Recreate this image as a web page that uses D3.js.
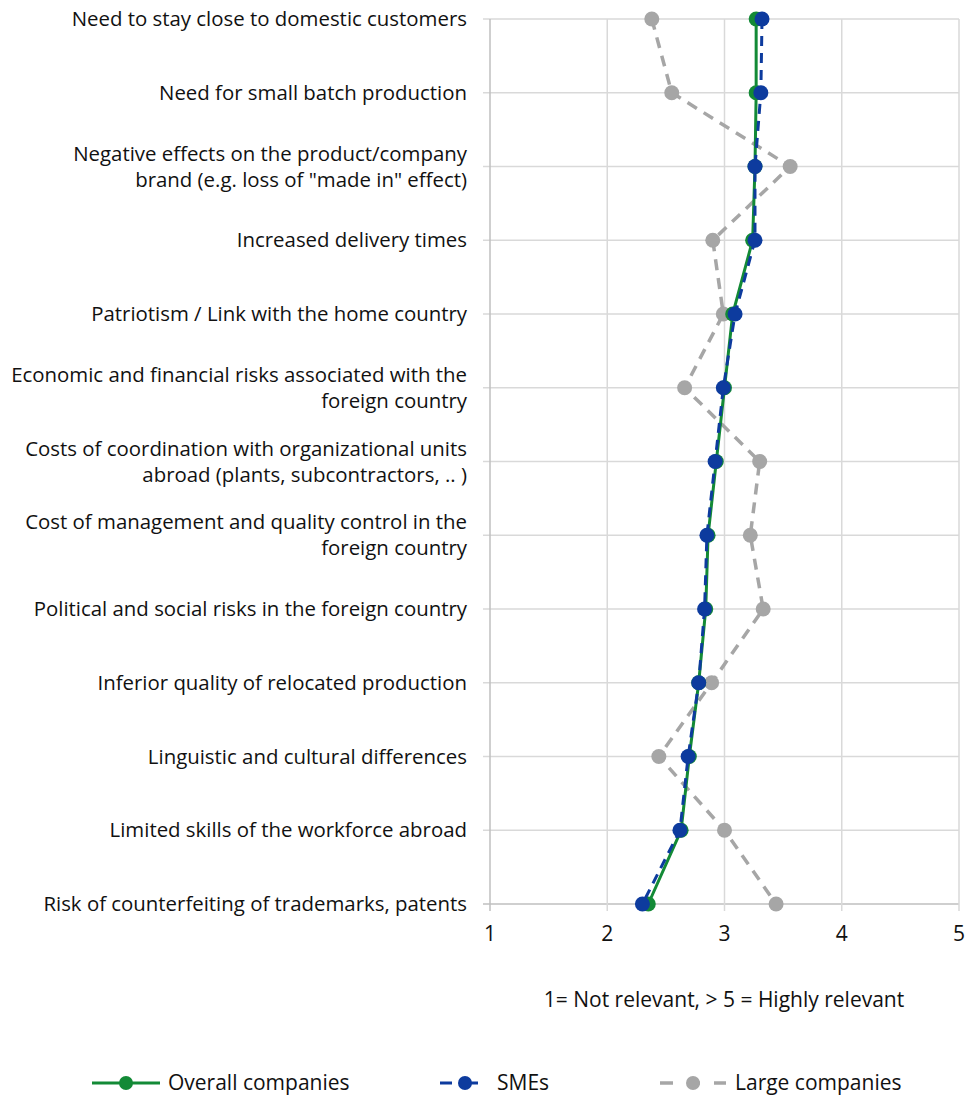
<!DOCTYPE html>
<html>
<head>
<meta charset="utf-8">
<script src="https://cdn.jsdelivr.net/npm/d3@7"></script>
<style>
  body { margin: 0; background: #fff; }
  text { font-family: "Open Sans", "Lato", sans-serif; fill: #111; }
</style>
</head>
<body>
<div class="chart"></div>
<script>
/* categories, top to bottom (each entry is a list of label lines) */
const categories = [
  ["Need to stay close to domestic customers"],
  ["Need for small batch production"],
  ["Negative effects on the product/company", "brand (e.g. loss of \"made in\" effect)"],
  ["Increased delivery times"],
  ["Patriotism / Link with the home country"],
  ["Economic and financial risks associated with the", "foreign country"],
  ["Costs of coordination with organizational units", "abroad (plants, subcontractors,  .. )"],
  ["Cost of management and quality control in the", "foreign country"],
  ["Political and social risks in the foreign country"],
  ["Inferior quality of relocated production"],
  ["Linguistic and cultural differences"],
  ["Limited skills of the workforce abroad"],
  ["Risk of counterfeiting of trademarks, patents"]
];

/* series values (1 = not relevant, 5 = highly relevant) */
const overall = [3.27, 3.27, 3.26, 3.24, 3.07, 3.00, 2.93, 2.86, 2.84, 2.78, 2.70, 2.63, 2.35];
const smes    = [3.32, 3.31, 3.26, 3.26, 3.09, 2.99, 2.92, 2.85, 2.83, 2.78, 2.69, 2.62, 2.30];
const large   = [2.38, 2.55, 3.56, 2.90, 2.99, 2.66, 3.30, 3.22, 3.33, 2.89, 2.44, 3.00, 3.44];

const xTicks = [1, 2, 3, 4, 5];
const axisTitle = "1= Not relevant, > 5 = Highly relevant";

const series = [
  { name: "Large companies", values: large, color: "#a6a6a6", dash: "11,8", width: 3.5 },
  { name: "Overall companies", values: overall, color: "#138a36", dash: null, width: 3 },
  { name: "SMEs", values: smes, color: "#0d3b9e", dash: "10,7", width: 3 }
];

const fontSize = "21px";
const labelSize = "20.4px";

/* svg */
const width = 969;
const height = 1099;
const svg = d3.select(".chart").append("svg")
  .attr("width", width)
  .attr("height", height);

/* scales */
const x = d3.scaleLinear().domain([1, 5]).range([490, 959]);
const y = d3.scalePoint()
  .domain(d3.range(categories.length))
  .range([19, 904]);

/* horizontal gridlines, one per category */
svg.append("g")
  .selectAll("line")
  .data(d3.range(categories.length))
  .join("line")
  .attr("x1", x(1) - 7)
  .attr("x2", x(5))
  .attr("y1", d => y(d))
  .attr("y2", d => y(d))
  .attr("stroke", d => d === categories.length - 1 ? "#bfbfbf" : "#d9d9d9")
  .attr("stroke-width", 1.5);

/* vertical gridlines */
svg.append("g")
  .selectAll("line")
  .data(xTicks)
  .join("line")
  .attr("x1", d => x(d))
  .attr("x2", d => x(d))
  .attr("y1", y(0))
  .attr("y2", y(categories.length - 1) + 7)
  .attr("stroke", d => d === 1 ? "#bfbfbf" : "#d9d9d9")
  .attr("stroke-width", 1.5);

/* x tick labels */
svg.append("g")
  .selectAll("text")
  .data(xTicks)
  .join("text")
  .attr("x", d => x(d))
  .attr("y", 941)
  .attr("text-anchor", "middle")
  .style("font-size", fontSize)
  .text(d => d);

/* axis title */
svg.append("text")
  .attr("x", 724)
  .attr("y", 1007)
  .attr("text-anchor", "middle")
  .style("font-size", fontSize)
  .text(axisTitle);

/* category labels */
const labels = svg.append("g")
  .selectAll("text")
  .data(categories)
  .join("text")
  .attr("text-anchor", "end")
  .style("font-size", labelSize)
  .attr("y", (d, i) => y(i) + 7 - (d.length - 1) * 13);

labels.selectAll("tspan")
  .data(d => d)
  .join("tspan")
  .attr("x", 467)
  .attr("dy", (d, i) => i === 0 ? 0 : 26)
  .text(d => d);

/* lines and markers */
const line = d3.line()
  .x(d => x(d))
  .y((d, i) => y(i));

series.forEach(s => {
  const g = svg.append("g");
  g.append("path")
    .datum(s.values)
    .attr("d", line)
    .attr("fill", "none")
    .attr("stroke", s.color)
    .attr("stroke-width", s.width)
    .attr("stroke-dasharray", s.dash);
  g.selectAll("circle")
    .data(s.values)
    .join("circle")
    .attr("cx", d => x(d))
    .attr("cy", (d, i) => y(i))
    .attr("r", 7.5)
    .attr("fill", s.color);
});

/* legend */
const legendItems = [
  { s: series[1], x: 92, len: 68, tx: 168 },
  { s: series[2], x: 440, len: 50, tx: 497 },
  { s: series[0], x: 660, len: 66, tx: 735 }
];
const ly = 1083;
const legend = svg.append("g")
  .selectAll("g")
  .data(legendItems)
  .join("g");

legend.append("line")
  .attr("x1", d => d.x)
  .attr("x2", d => d.x + d.len)
  .attr("y1", ly)
  .attr("y2", ly)
  .attr("stroke", d => d.s.color)
  .attr("stroke-width", d => d.s.width)
  .attr("stroke-dasharray", d => d.s.dash ? (d.len === 50 ? "12,14" : "13,14") : null);

legend.append("circle")
  .attr("cx", d => d.x + d.len / 2)
  .attr("cy", ly)
  .attr("r", 7)
  .attr("fill", d => d.s.color);

legend.append("text")
  .attr("x", d => d.tx)
  .attr("y", ly + 7)
  .style("font-size", fontSize)
  .text(d => d.s.name);
</script>
</body>
</html>
